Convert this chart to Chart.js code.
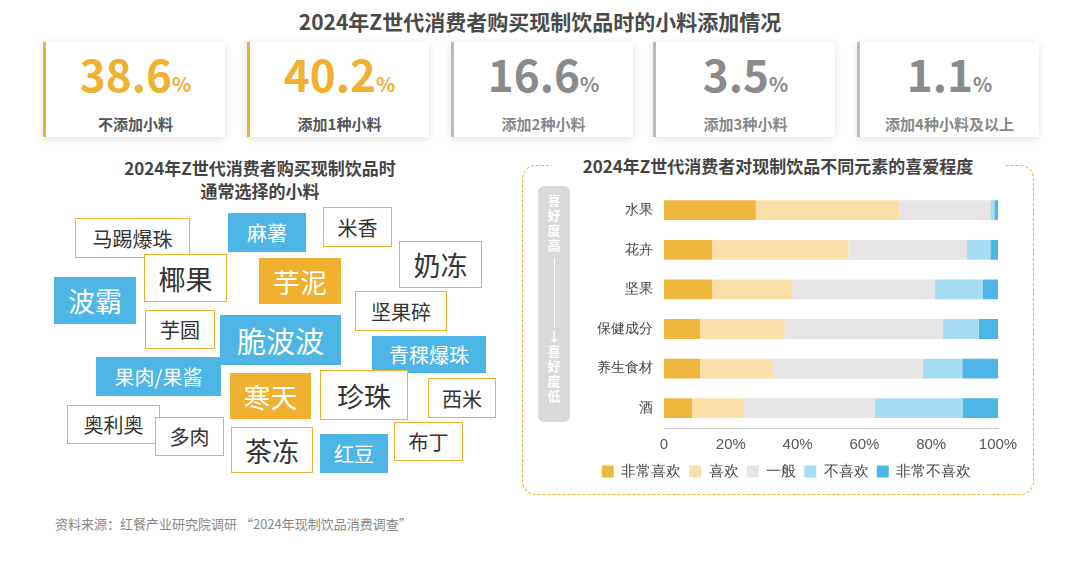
<!DOCTYPE html>
<html><head><meta charset="utf-8">
<script src="https://cdn.jsdelivr.net/npm/chart.js@4"></script>
<style>
body{margin:0;width:1080px;height:564px;background:#fff;font-family:"Noto Sans CJK SC","Noto Sans",sans-serif;position:relative;overflow:hidden;color:#444}
.abs{position:absolute}
.title{left:0;width:1080px;top:6px;text-align:center;font-size:21px;font-weight:bold;color:#4a4a4a}
.card{top:42px;height:95px;width:179px;background:#fff;box-shadow:0 2px 8px rgba(0,0,0,0.12);text-align:center;border-left:3px solid #F0B030}
.card.g{border-left-color:#bbb}
.card .n{font-size:44px;font-weight:bold;color:#F0B030;line-height:46px;margin-top:8px}
.card.g .n{color:#8a8a8a}
.card .n span{font-size:20px}
.card .l{font-size:15px;font-weight:bold;color:#555;margin-top:6px}
.card.g .l{color:#888}
.w{display:flex;align-items:center;justify-content:center;box-sizing:border-box;border:1.5px solid #F0B030;background:#fff;color:#333}
.w.b{background:#4DB6E6;border:none;color:#fff}
.w.o{background:#F0B030;border:none;color:#fff}
</style></head><body>
<div class="abs title">2024年Z世代消费者购买现制饮品时的小料添加情况</div>
<div id="cards"></div>
<div class="abs" style="left:60px;width:400px;top:156px;text-align:center;font-size:17px;font-weight:bold;color:#444;line-height:23px">2024年Z世代消费者购买现制饮品时<br>通常选择的小料</div>
<div id="cloud"></div>
<div class="abs" style="left:522px;top:165px;width:512px;height:330px;border:1.5px dashed #F0B030;border-radius:14px;box-sizing:border-box"></div>
<div class="abs" style="left:552px;top:152px;width:452px;height:28px;background:#fff;text-align:center;font-size:17px;font-weight:bold;color:#444;line-height:28px">2024年Z世代消费者对现制饮品不同元素的喜爱程度</div>
<div class="abs" style="left:538px;top:186px;width:32px;height:236px;background:#d9d9d9;border-radius:6px;color:#fff;font-size:13px;font-weight:bold;text-align:center;line-height:15px;padding-top:6px;box-sizing:border-box">喜<br>好<br>度<br>高<div style="width:1px;height:70px;background:#fff;margin:6px auto 0"></div>↓<br>喜<br>好<br>度<br>低</div>
<div class="abs" style="left:575px;top:179px;width:450px;height:310px"><canvas id="c"></canvas></div>
<div class="abs" style="left:55px;top:514px;font-size:13px;color:#888">资料来源：红餐产业研究院调研 “2024年现制饮品消费调查”</div>
<script>
const cardValues=["38.6","40.2","16.6","3.5","1.1"];
const cardLabels=["不添加小料","添加1种小料","添加2种小料","添加3种小料","添加4种小料及以上"];
const categories=["水果","花卉","坚果","保健成分","养生食材","酒"];
const seriesNames=["非常喜欢","喜欢","一般","不喜欢","非常不喜欢"];
const veryLike=[27.5,14.4,14.4,10.8,10.8,8.4];
const like=[42.9,40.8,23.9,25.3,21.7,15.5];
const neutral=[27.3,35.5,42.7,47.3,45.0,39.2];
const dislike=[1.2,7.0,14.5,10.8,11.8,26.4];
const veryDislike=[1.1,2.3,4.5,5.8,10.7,10.5];
const xTicks=["0","20%","40%","60%","80%","100%"];
const words=[
["马踢爆珠","",75,218,115,40,20],["麻薯","b",228,213,78,39,20],["米香","",323,207,69,40,20],
["椰果","",144,254,83,48,27],["芋泥","o",259,258,82,46,27],["奶冻","",399,241,83,47,27],
["波霸","b",54,277,82,47,27],["坚果碎","",355,291,92,40,20],["芋圆","",145,310,70,39,20],
["脆波波","b",220,315,121,50,29],["青稞爆珠","b",372,336,114,37,20],["果肉/果酱","b",96,357,125,39,20],
["寒天","o",230,373,81,46,27],["珍珠","",320,370,88,50,27],["西米","",428,378,68,40,20],
["奥利奥","",67,405,93,39,20],["多肉","",155,417,69,39,20],["茶冻","",231,427,82,46,27],
["红豆","b",320,434,68,39,20],["布丁","",394,422,69,39,20]];
const cardX=[43,247,451,653,857];
let h="";
cardValues.forEach((v,i)=>{h+=`<div class="abs card${i>1?' g':''}" style="left:${cardX[i]}px"><div class="n">${v}<span>%</span></div><div class="l">${cardLabels[i]}</div></div>`});
document.getElementById('cards').innerHTML=h;
h="";
words.forEach(w=>{h+=`<div class="abs w ${w[1]}" style="left:${w[2]}px;top:${w[3]}px;width:${w[4]}px;height:${w[5]}px;font-size:${w[6]}px">${w[0]}</div>`});
document.getElementById('cloud').innerHTML=h;
const cols=["#F0B73F","#FAE0A8","#E6E4E5","#A6DDF2","#4DB6E6"];
const data=[veryLike,like,neutral,dislike,veryDislike];
new Chart(document.getElementById('c'),{type:'bar',
data:{labels:categories,datasets:seriesNames.map((n,i)=>({label:n,data:data[i],backgroundColor:cols[i],categoryPercentage:0.5,barPercentage:1}))},
options:{indexAxis:'y',responsive:true,maintainAspectRatio:false,animation:false,
layout:{padding:{right:27,top:0}},
scales:{x:{stacked:true,min:0,max:100,ticks:{stepSize:20,color:'#555',font:{size:15},padding:2,callback:(v,i)=>xTicks[i]},grid:{display:false,drawTicks:true,tickLength:6},border:{color:'#ccc'}},
y:{stacked:true,grid:{display:false},border:{display:false},ticks:{color:'#444',font:{size:14}},afterFit:s=>{s.width=89}}},
plugins:{legend:{position:'bottom',labels:{boxWidth:12,boxHeight:12,color:'#444',font:{size:15},padding:8}},tooltip:{enabled:false}}}});
</script></body></html>
